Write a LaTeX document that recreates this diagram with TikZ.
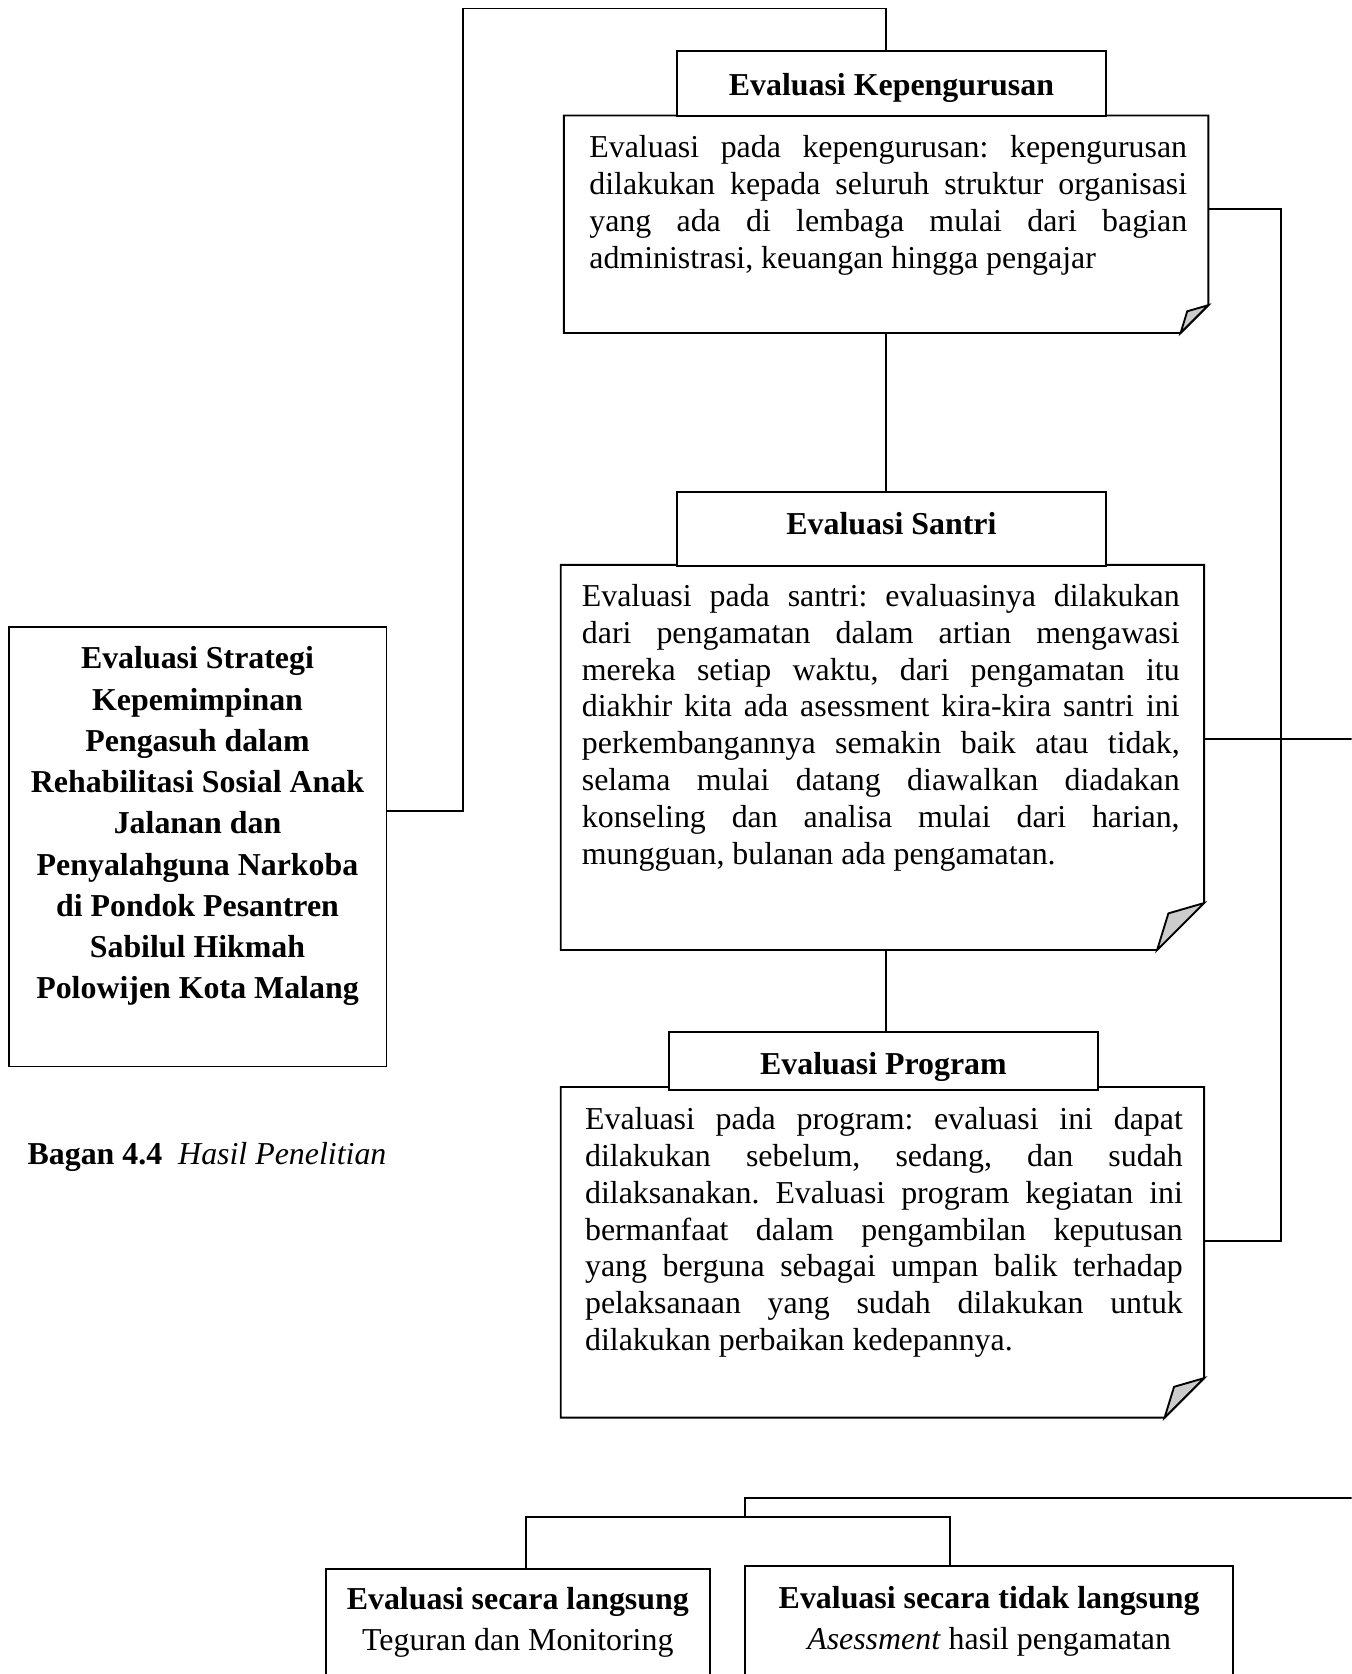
\documentclass[tikz,border=0pt]{standalone}
\usepackage{fontspec}
\setmainfont{Liberation Serif}
\usepackage{tikz}
\usetikzlibrary{positioning}
\frenchspacing

% note box with a folded corner
\newcommand{\foldnote}[2]{%
  \draw[fill=white] (#1.north west) -- (#1.north east) -- ([yshift=#2]#1.south east)
    -- ([xshift=-#2]#1.south east) -- (#1.south west) -- cycle;
  \draw[fill=gray!40] ([yshift=#2]#1.south east) -- ([xshift=-0.76*#2,yshift=0.78*#2]#1.south east)
    -- ([xshift=-#2]#1.south east) -- cycle;
}

\begin{document}
\begin{tikzpicture}[x=0.02cm, y=-0.02cm, line width=1pt,
    head/.style={draw, fill=white, inner sep=0, minimum width=8.04cm, font=\fontsize{17}{20}\selectfont\bfseries},
    body/.style={inner sep=0},
    para/.style={inner sep=0, text width=11.2cm, align=justify, font=\fontsize{17}{19.6}\selectfont},
    plainbox/.style={draw, inner sep=0}]
        \useasboundingbox (0,0) rectangle (1266,1568);
        \clip (0,0) rectangle (1266,1568);
        % Left box
        \node[plainbox, minimum width=7.08cm, minimum height=8.24cm] (lb) at (185,793) {};
        \node[inner sep=0, align=center, font=\fontsize{17}{22}\selectfont\bfseries] (lbT) at (185,774)
            {Evaluasi Strategi\\Kepemimpinan\\Pengasuh dalam\\Rehabilitasi Sosial Anak\\Jalanan dan\\Penyalahguna Narkoba\\di Pondok Pesantren\\Sabilul Hikmah\\Polowijen Kota Malang};
        \node[inner sep=0, anchor=west, font=\fontsize{17}{20}\selectfont] (cap) at (25,1084)
            {\textbf{Bagan 4.4}\ \ \textit{Hasil Penelitian}};

        % Evaluasi Kepengurusan
        \node[body, minimum width=12.04cm, minimum height=4.04cm] (kepB) at (830,210) {};
        \foldnote{kepB}{0.52cm}
        \node[head, text height=0.82cm, text depth=0.40cm] (kepH) at (835,78.5) {Evaluasi Kepengurusan};
        \node[para, below right=0.36cm and 0.46cm of kepB.north west] (kepT)
            {Evaluasi pada kepengurusan: kepengurusan\linebreak dilakukan kepada seluruh struktur organisasi\linebreak yang ada di lembaga mulai dari bagian\linebreak administrasi, keuangan hingga pengajar};

        % Evaluasi Santri
        \node[body, minimum width=12.02cm, minimum height=7.18cm] (santriB) at (826.5,709.5) {};
        \foldnote{santriB}{0.88cm}
        \node[head, text height=0.80cm, text depth=0.58cm] (santriH) at (835,495.5) {Evaluasi Santri};
        \node[para, below right=0.35cm and 0.38cm of santriB.north west] (santriT)
            {Evaluasi pada santri: evaluasinya dilakukan\linebreak dari pengamatan dalam artian mengawasi\linebreak mereka setiap waktu, dari pengamatan itu\linebreak diakhir kita ada asessment kira-kira santri ini\linebreak perkembangannya semakin baik atau tidak,\linebreak selama mulai datang diawalkan diadakan\linebreak konseling dan analisa mulai dari harian,\linebreak mungguan, bulanan ada pengamatan.};

        % Evaluasi Program
        \node[body, minimum width=12.02cm, minimum height=6.16cm] (progB) at (826.5,1173) {};
        \foldnote{progB}{0.74cm}
        \node[head, text height=0.78cm, text depth=0.30cm] (progH) at (827.5,994) {Evaluasi Program};
        \node[para, below right=0.37cm and 0.44cm of progB.north west] (progT)
            {Evaluasi pada program: evaluasi ini dapat\linebreak dilakukan sebelum, sedang, dan sudah\linebreak dilaksanakan. Evaluasi program kegiatan ini\linebreak bermanfaat dalam pengambilan keputusan\linebreak yang berguna sebagai umpan balik terhadap\linebreak pelaksanaan yang sudah dilakukan untuk\linebreak dilakukan perbaikan kedepannya.};

        % Bottom boxes
        \node[plainbox, minimum width=7.2cm, minimum height=3cm] (langsung) at (485,1545) {};
        \node[inner sep=0, align=center, font=\fontsize{17}{21.6}\selectfont, below=0.34cm of langsung.north] (langsungT)
            {\textbf{Evaluasi secara langsung}\\Teguran dan Monitoring};
        \node[plainbox, minimum width=9.14cm, minimum height=3.06cm] (tidak) at (926.5,1543.5) {};
        \node[inner sep=0, align=center, font=\fontsize{17}{21.6}\selectfont, below=0.38cm of tidak.north] (tidakT)
            {\textbf{Evaluasi secara tidak langsung}\\\textit{Asessment} hasil pengamatan};

        % Connectors
        \coordinate (topL) at (434,8);
        \coordinate (spine) at (830,0);
        \coordinate (rTop) at (1200,196);
        \coordinate (rBot) at (1200,1162);
        \coordinate (rOut) at (1290,692);
        \coordinate (bOut) at (1290,1403);
        \coordinate (bSplit) at (698,1421);
        \draw ([yshift=0.66cm]lb.east) -| (topL) -| (spine |- kepH.north);
        \draw (spine |- kepB.south) -- (spine |- santriH.north);
        \draw (spine |- santriB.south) -- (spine |- progH.north);
        \draw (kepB.east |- rTop) -- (rTop) -- (rBot) -- (progB.east |- rBot);
        \draw (santriB.east |- rOut) -- (rOut);
        \draw (bOut) -| (bSplit);
        \draw ([xshift=0.16cm]langsung.north) |- (bSplit) -| ([xshift=-0.73cm]tidak.north);
    \end{tikzpicture}
\end{document}
